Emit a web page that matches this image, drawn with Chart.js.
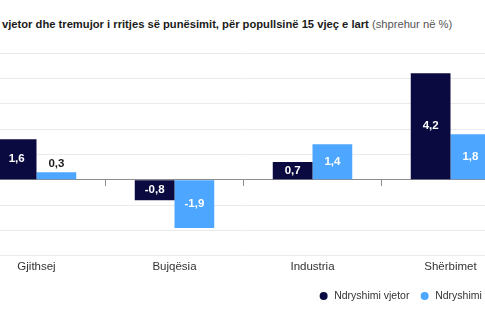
<!DOCTYPE html>
<html>
<head>
<meta charset="utf-8">
<script src="https://cdn.jsdelivr.net/npm/chart.js@4.4.1/dist/chart.umd.min.js"></script>
<style>
  html, body { margin: 0; padding: 0; background: #fff; overflow: hidden; }
  body { width: 485px; height: 325px; position: relative; }
  .title {
    position: absolute; left: 2px; top: 17.5px; white-space: nowrap;
    font-family: "Liberation Sans", Arial, sans-serif;
    font-size: 11.2px; color: #1a1a1a; font-weight: bold;
  }
  .title .lead { position: absolute; right: 100%; }
  .title .unit { font-weight: normal; color: #555; }
  .wrap { position: absolute; left: -60px; top: 0; width: 600px; height: 325px; }
</style>
</head>
<body>
<div class="title"><span class="lead">Ndryshimi&nbsp;</span>vjetor dhe tremujor i rritjes së punësimit, për popullsinë 15 vjeç e lart <span class="unit">(shprehur në %)</span></div>
<div class="wrap"><canvas id="chart"></canvas></div>
<script>
const FONT = '"Liberation Sans", Arial, sans-serif';

const categories = ['Gjithsej', 'Bujqësia', 'Industria', 'Shërbimet'];
const annualChange = [1.6, -0.8, 0.7, 4.2];
const quarterlyChange = [0.3, -1.9, 1.4, 1.8];
const seriesNames = ['Ndryshimi vjetor', 'Ndryshimi tremujor'];

// value labels: white inside tall bars, dark above short ones
const barLabels = {
  id: 'barLabels',
  afterDatasetsDraw(chart) {
    const ctx = chart.ctx;
    ctx.save();
    ctx.font = 'bold 11.5px ' + FONT;
    ctx.textAlign = 'center';
    ctx.textBaseline = 'middle';
    chart.data.datasets.forEach((ds, i) => {
      chart.getDatasetMeta(i).data.forEach((bar, j) => {
        const v = ds.data[j];
        const txt = v.toFixed(1).replace('.', ',');
        const h = Math.abs(bar.base - bar.y);
        if (h > 14) {
          ctx.fillStyle = '#ffffff';
          ctx.fillText(txt, bar.x, (bar.y + bar.base) / 2);
        } else {
          ctx.fillStyle = '#1a1a1a';
          ctx.fillText(txt, bar.x, v >= 0 ? bar.y - 8 : bar.y + 8);
        }
      });
    });
    ctx.restore();
  }
};

new Chart(document.getElementById('chart'), {
  type: 'bar',
  data: {
    labels: categories,
    datasets: [
      { label: seriesNames[0], data: annualChange, backgroundColor: '#0a0a40' },
      { label: seriesNames[1], data: quarterlyChange, backgroundColor: '#4da6ff' }
    ]
  },
  options: {
    responsive: true,
    maintainAspectRatio: false,
    animation: false,
    categoryPercentage: 0.576,
    barPercentage: 1,
    layout: { padding: { left: 27.5, right: 6.75, top: 53, bottom: 13.75 } },
    scales: {
      x: {
        grid: { display: false, drawTicks: false },
        border: { display: false },
        ticks: { color: '#333', font: { family: FONT, size: 11.5 }, padding: 3.5 },
        afterFit(scale) { scale.height += 4; }
      },
      x2: {
        type: 'category',
        labels: categories,
        position: { y: 0 },
        offset: true,
        grid: { drawOnChartArea: false, offset: true, tickLength: 6, color: '#8c8c8c' },
        border: { color: '#8c8c8c' },
        ticks: { display: false }
      },
      y: {
        position: 'right',
        min: -3,
        max: 5,
        ticks: { display: false, stepSize: 1 },
        grid: { color: '#ebebeb', drawTicks: false },
        border: { display: false },
        afterFit(scale) { scale.width = 13.75; }
      }
    },
    plugins: {
      legend: {
        position: 'bottom',
        align: 'end',
        labels: {
          usePointStyle: true,
          pointStyle: 'circle',
          boxWidth: 10.5,
          boxHeight: 5.66,
          padding: 10,
          color: '#333',
          font: { family: FONT, size: 10.5 }
        }
      },
      tooltip: { enabled: false }
    }
  },
  plugins: [barLabels]
});
</script>
</body>
</html>
